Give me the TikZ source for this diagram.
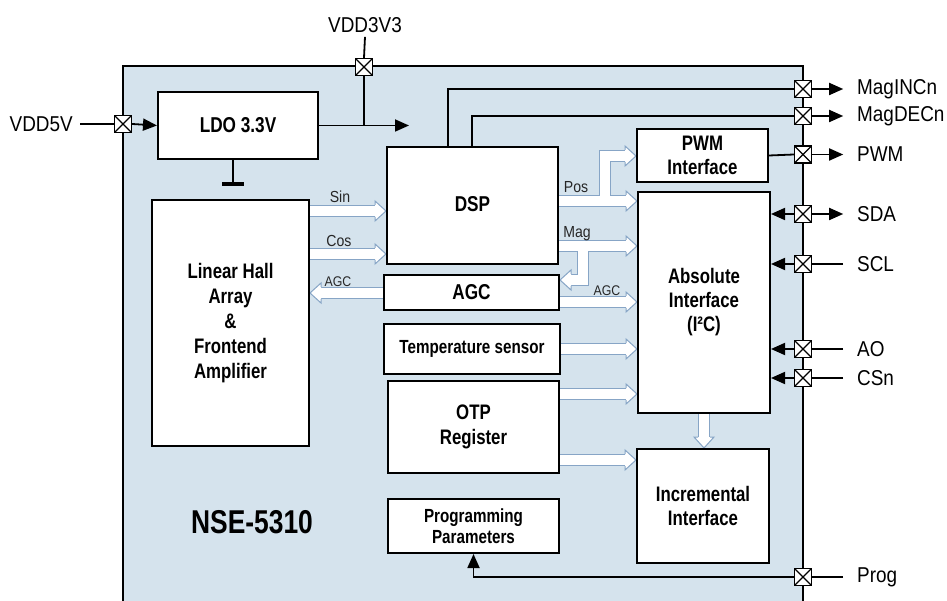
\documentclass[tikz,border=0pt]{standalone}
\usepackage{fontspec}
\setmainfont{Liberation Sans}[FakeStretch=0.88]
\newfontfamily\condbf{Liberation Sans}[FakeStretch=0.8]
\usetikzlibrary{calc,arrows.meta}
\pgfdeclarelayer{chip}
\pgfdeclarelayer{arr}
\pgfsetlayers{chip,arr,main}
\definecolor{chipbg}{RGB}{213,227,237}
\definecolor{fatedge}{RGB}{135,165,198}
\tikzset{
 bfs/.style 2 args={font=\condbf\bfseries\fontsize{#1}{#2}\selectfont},
 blk/.style={draw=black, line width=2pt, fill=white, inner sep=0pt, anchor=north west, align=center, bfs={21}{24}},
 pinbox/.style={draw=black, line width=1.4pt, fill=white, minimum size=17pt, inner sep=0pt,
   path picture={\draw[line width=1.2pt] (path picture bounding box.north west) -- (path picture bounding box.south east)
     (path picture bounding box.south west) -- (path picture bounding box.north east);}},
 pinlbl/.style={font=\fontsize{21.5}{25}\selectfont, inner sep=0pt},
 wire/.style={line width=1.8pt},
 sig/.style={line width=1.8pt, -{Triangle[length=14pt,width=12pt]}},
 fatout/.style={line width=12pt, draw=fatedge, line join=miter},
 fatin/.style={line width=10pt, draw=white, line join=miter},
 fatrim/.style={line width=1pt, draw=fatedge, line join=miter},
 small/.style={font=\fontsize{16}{18}\selectfont, inner sep=0pt, text=black!85},
}
\newcommand\fhR[1]{%
 \fill[white] ($(#1)+(-11,-10)$) -- (#1) -- ($(#1)+(-11,10)$) -- cycle;
 \draw[fatrim] ($(#1)+(-11,-6)$) -- ($(#1)+(-11,-10)$) -- (#1) -- ($(#1)+(-11,10)$) -- ($(#1)+(-11,6)$);}
\newcommand\fhL[1]{%
 \fill[white] ($(#1)+(11,-10)$) -- (#1) -- ($(#1)+(11,10)$) -- cycle;
 \draw[fatrim] ($(#1)+(11,-6)$) -- ($(#1)+(11,-10)$) -- (#1) -- ($(#1)+(11,10)$) -- ($(#1)+(11,6)$);}
\newcommand\fhD[1]{%
 \fill[white] ($(#1)+(-10,-11)$) -- (#1) -- ($(#1)+(10,-11)$) -- cycle;
 \draw[fatrim] ($(#1)+(-6,-11)$) -- ($(#1)+(-10,-11)$) -- (#1) -- ($(#1)+(10,-11)$) -- ($(#1)+(6,-11)$);}
\newcommand\fatall[1]{%
 \draw[#1] (sinA) -- ($(sinT)+(-11,0)$);
 \draw[#1] (cosA) -- ($(cosT)+(-11,0)$);
 \draw[#1] (agclA) -- ($(agclT)+(11,0)$);
 \draw[#1] (posA) -- ($(posT)+(-11,0)$);
 \draw[#1] (posB) |- ($(posU)+(-11,0)$);
 \draw[#1] (magA) -- ($(magT)+(-11,0)$);
 \draw[#1] (magB) |- ($(magU)+(11,0)$);
 \draw[#1] (agcrA) -- ($(agcrT)+(-11,0)$);
 \draw[#1] (tempA) -- ($(tempT)+(-11,0)$);
 \draw[#1] (otpaA) -- ($(otpaT)+(-11,0)$);
 \draw[#1] (otpbA) -- ($(otpbT)+(-11,0)$);
 \draw[#1] (aiA) -- ($(aiT)+(0,-11)$);}
\begin{document}
\begin{tikzpicture}[x=1pt,y=-1pt]
\useasboundingbox (0,0) rectangle (947,601);
\begin{pgfonlayer}{chip}
 \fill[chipbg] (123,66) rectangle (803,601);
\end{pgfonlayer}
\draw[line width=2.8pt] (123,601) -- (123,66) -- (803,66) -- (803,601);

% blocks
\node[blk, minimum width=160pt, minimum height=67pt, bfs={21.5}{24}] (ldo) at (157,91) {LDO 3.3V};
\node[blk, minimum width=157pt, minimum height=246pt, bfs={21}{25}] (hall) at (151,199) {Linear Hall\\Array\\\&\\Frontend\\Amplifier};
\node[blk, minimum width=171pt, minimum height=117pt, bfs={21.5}{24}] (dsp) at (386,146) {\raisebox{4pt}{DSP}};
\node[blk, minimum width=175pt, minimum height=35pt, bfs={21.5}{24}] (agc) at (383,274) {AGC};
\node[blk, minimum width=176pt, minimum height=50pt, bfs={19}{22}] (temp) at (383,323) {Temperature sensor};
\node[blk, minimum width=171pt, minimum height=92pt, bfs={21}{25}] (otp) at (387,380) {OTP\\Register};
\node[blk, minimum width=171pt, minimum height=54pt, bfs={19}{21}] (prog) at (387,498) {Programming\\Parameters};
\node[blk, minimum width=131pt, minimum height=53pt, bfs={21}{24}] (pwm) at (636,128) {PWM\\Interface};
\node[blk, minimum width=132pt, minimum height=221pt, bfs={21}{24}] (abs) at (637,191) {Absolute\\Interface\\(I²C)};
\node[blk, minimum width=132pt, minimum height=114pt, bfs={21}{24}] (inc) at (636,448) {Incremental\\Interface};
\node[bfs={33}{36}, inner sep=0pt] (nse) at (252,522) {NSE-5310};

% fat arrows
\coordinate (sinA) at (hall.east |- 0,211); \coordinate (sinT) at (dsp.west |- 0,211);
\coordinate (cosA) at (hall.east |- 0,254); \coordinate (cosT) at (dsp.west |- 0,254);
\coordinate (agclA) at (agc.west |- 0,293); \coordinate (agclT) at (hall.east |- 0,293);
\coordinate (posA) at (dsp.east |- 0,201); \coordinate (posT) at (abs.west |- 0,201);
\coordinate (posB) at (605,201); \coordinate (posU) at (pwm.west |- 0,156);
\coordinate (magA) at (dsp.east |- 0,246); \coordinate (magT) at (abs.west |- 0,246);
\coordinate (magB) at (583,246); \coordinate (magU) at (agc.east |- 0,280);
\coordinate (agcrA) at (agc.east |- 0,302); \coordinate (agcrT) at (abs.west |- 0,302);
\coordinate (tempA) at (temp.east |- 0,349); \coordinate (tempT) at (abs.west |- 0,349);
\coordinate (otpaA) at (otp.east |- 0,394); \coordinate (otpaT) at (abs.west |- 0,394);
\coordinate (otpbA) at (otp.east |- 0,460); \coordinate (otpbT) at (inc.west |- 0,460);
\coordinate (aiA) at (abs.south); \coordinate (aiT) at (abs.south |- inc.north);
\begin{pgfonlayer}{arr}
 \fatall{fatout}
 \fatall{fatin}
 \fhR{sinT} \fhR{cosT} \fhL{agclT} \fhR{posT} \fhR{posU} \fhR{magT} \fhL{magU}
 \fhR{agcrT} \fhR{tempT} \fhR{otpaT} \fhR{otpbT} \fhD{aiT}
\end{pgfonlayer}

% small labels
\node[small] (lsin) at (340,197) {Sin};
\node[small] (lcos) at (339,241) {Cos};
\node[small, font=\fontsize{14}{15}\selectfont] (lagcl) at (338,282) {AGC};
\node[small] (lpos) at (576,187) {Pos};
\node[small] (lmag) at (577,234) {Mag};
\node[small, font=\fontsize{14}{15}\selectfont] (lagcr) at (607,291) {AGC};

% pins
\node[pinbox] (p5) at (123,124) {};
\node[pinbox] (p33) at (364,67) {};
\node[pinbox] (pinc) at (803,89) {};
\node[pinbox] (pdec) at (803,116) {};
\node[pinbox] (ppwm) at (803,154.5) {};
\node[pinbox] (psda) at (803,214) {};
\node[pinbox] (pscl) at (803,264) {};
\node[pinbox] (pao) at (803,349) {};
\node[pinbox] (pcsn) at (803,378) {};
\node[pinbox] (pprog) at (803,577) {};

% pin labels
\node[pinlbl, anchor=east] (l5) at (73,124) {VDD5V};
\node[pinlbl] (l33) at (365,25) {VDD3V3};
\node[pinlbl, anchor=west] (linc) at (857,89) {MagINCn};
\node[pinlbl, anchor=west] (ldec) at (857,116) {MagDECn};
\node[pinlbl, anchor=west] (lpwm) at (857,154) {PWM};
\node[pinlbl, anchor=west] (lsda) at (857,214) {SDA};
\node[pinlbl, anchor=west] (lscl) at (857,264) {SCL};
\node[pinlbl, anchor=west] (lao) at (857,349) {AO};
\node[pinlbl, anchor=west] (lcsn) at (857,378) {CSn};
\node[pinlbl, anchor=west] (lprog) at (857,577) {Prog};

% connectors
\draw[wire] ($(l5.east)+(7,0)$) -- (p5.west);
\draw[sig] (p5.east) -- (ldo.west);
\draw[wire] ($(l33.south)+(0,4)$) -- (p33.north);
\draw[wire] (p33.south) -- (p33 |- ldo.east);
\draw[sig] (ldo.east) -- ++(90,0);
\draw[wire] ($(ldo.south)+(-5,0)$) -- ++(0,23);
\draw[line width=4pt] ($(ldo.south)+(-16,24)$) -- ++(22,0);
\draw[wire] ($(dsp.north west)+(62,0)$) |- (pinc.west);
\draw[wire] ($(dsp.north west)+(86,0)$) |- (pdec.west);
\draw[wire] (pwm.east) -- (ppwm.west);
\draw[sig] (pinc.east) -- ++(31,0);
\draw[sig] (pdec.east) -- ++(31,0);
\draw[sig] (ppwm.east) -- ++(31,0);
\draw[sig] (psda.east) -- ++(31,0);
\draw[sig] (psda.west) -- (abs.east |- psda);
\draw[wire] ($(pscl.east)+(31,0)$) -- (pscl.east);
\draw[sig] (pscl.west) -- (abs.east |- pscl);
\draw[wire] ($(pao.east)+(31,0)$) -- (pao.east);
\draw[sig] (pao.west) -- (abs.east |- pao);
\draw[wire] ($(pcsn.east)+(31,0)$) -- (pcsn.east);
\draw[sig] (pcsn.west) -- (abs.east |- pcsn);
\draw[wire] ($(pprog.east)+(31,0)$) -- (pprog.east);
\draw[sig] (pprog.west) -| (prog.south);
\end{tikzpicture}
\end{document}
